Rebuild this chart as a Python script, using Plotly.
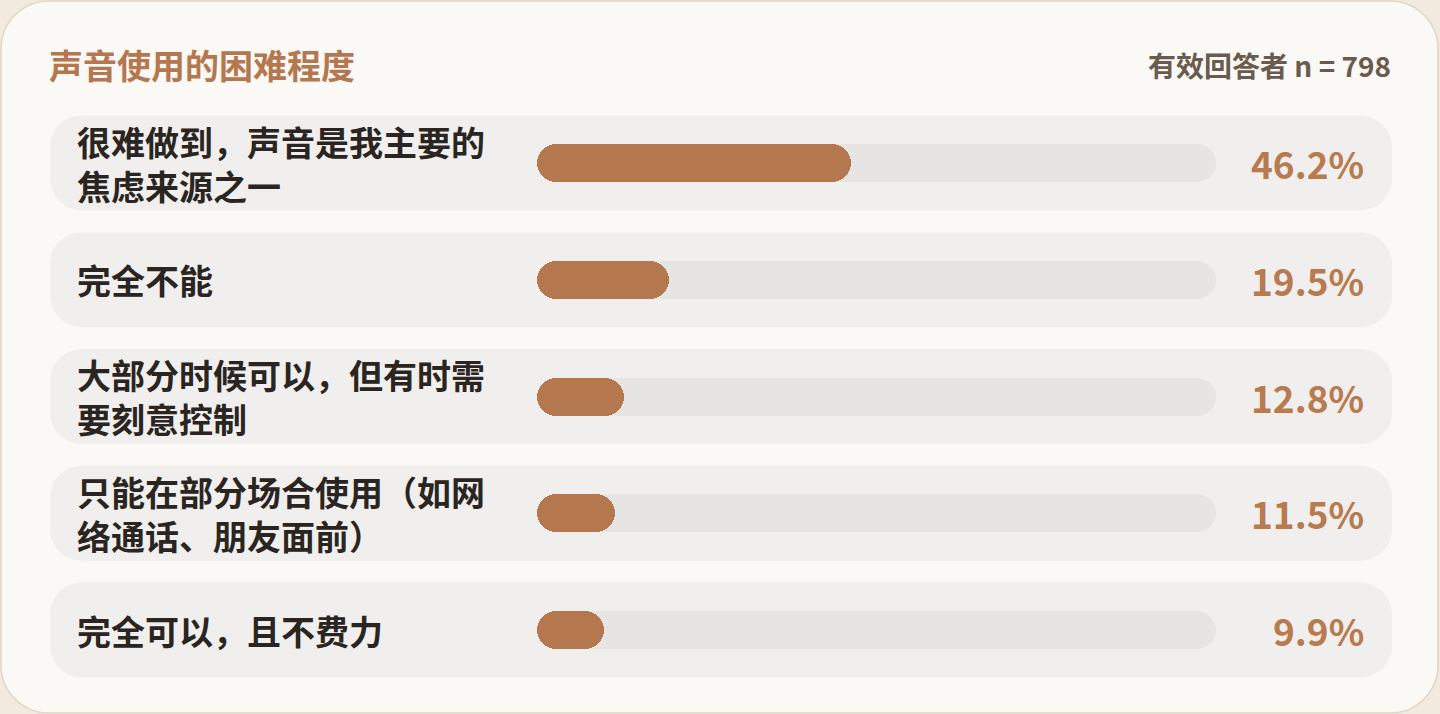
import plotly.graph_objects as go

W, H = 1440, 714

title = "声音使用的困难程度"
sample_note = "有效回答者 n = 798"
categories = [
    "很难做到，声音是我主要的<br>焦虑来源之一",
    "完全不能",
    "大部分时候可以，但有时需<br>要刻意控制",
    "只能在部分场合使用（如网<br>络通话、朋友面前）",
    "完全可以，且不费力",
]
values = [46.2, 19.5, 12.8, 11.5, 9.9]
full_scale = [100, 100, 100, 100, 100]

FONT = "Noto Sans CJK SC, Noto Sans, sans-serif"
ACCENT = "#b5774e"
PCT = "#b87a4f"
LABEL = "#2b2521"
ROW_BG = "#f0efed"
TRACK = "#e6e5e3"
CARD = "#faf9f6"
OUTER = "#f2eadf"

# pixel layout
ROW0 = 163.0
STEP = 116.75
y_top = -ROW0 / STEP
y_bot = (H - ROW0) / STEP
idx = list(range(len(categories)))


def px(x, y):
    return x / W, 1 - y / H


def rrect(x0, y0, x1, y1, r):
    k = 0.5523 * r

    def P(x, y):
        a, b = px(x, y)
        return f"{a:.6f},{b:.6f}"
    return (f"M {P(x0 + r, y0)} L {P(x1 - r, y0)} "
            f"C {P(x1 - r + k, y0)} {P(x1, y0 + r - k)} {P(x1, y0 + r)} "
            f"L {P(x1, y1 - r)} "
            f"C {P(x1, y1 - r + k)} {P(x1 - r + k, y1)} {P(x1 - r, y1)} "
            f"L {P(x0 + r, y1)} "
            f"C {P(x0 + r - k, y1)} {P(x0, y1 - r + k)} {P(x0, y1 - r)} "
            f"L {P(x0, y0 + r)} "
            f"C {P(x0, y0 + r - k)} {P(x0 + r - k, y0)} {P(x0 + r, y0)} Z")


shapes = [dict(type="path", path=rrect(1, 1, 1438, 713, 48), xref="paper", yref="paper",
               fillcolor=CARD, line=dict(color="#e2d5c4", width=1.5), layer="below")]
for i in idx:
    cy = ROW0 + i * STEP
    shapes.append(dict(type="path", path=rrect(50, cy - 47.5, 1392, cy + 47.5, 32),
                       xref="paper", yref="paper", fillcolor=ROW_BG,
                       line=dict(width=0), layer="below"))

bar_w = 38 / STEP

fig = go.Figure()
fig.add_trace(go.Bar(x=full_scale, base=[0] * len(idx), y=idx, orientation="h",
                     width=bar_w, yaxis="y",
                     marker=dict(color=TRACK, cornerradius=19, line=dict(width=0)),
                     hoverinfo="skip", showlegend=False))
fig.add_trace(go.Bar(x=values, base=[0] * len(idx), y=idx, orientation="h",
                     width=bar_w, yaxis="y2",
                     marker=dict(color=ACCENT, cornerradius=19, line=dict(width=0)),
                     hoverinfo="skip", showlegend=False))

annotations = [
    dict(text=f"<b>{title}</b>", x=47 / W, y=1 - 64 / H, xref="paper", yref="paper",
         xanchor="left", yanchor="middle", showarrow=False,
         font=dict(family=FONT, size=34, color=ACCENT)),
    dict(text=f"<b>{sample_note}</b>", x=1393 / W, y=1 - 65 / H, xref="paper", yref="paper",
         xanchor="right", yanchor="middle", showarrow=False,
         font=dict(family=FONT, size=28, color="#6b5b4e")),
]
for i, (c, v) in enumerate(zip(categories, values)):
    annotations.append(dict(text=f"<b>{c}</b>", x=75 / W, y=i, xref="paper", yref="y",
                            xanchor="left", yanchor="middle", align="left", showarrow=False,
                            font=dict(family=FONT, size=34, color=LABEL)))
    annotations.append(dict(text=f"<b>{v:.1f}%</b>", x=1366 / W, y=i, xref="paper", yref="y",
                            xanchor="right", yanchor="middle", align="right", showarrow=False,
                            font=dict(family=FONT, size=37, color=PCT)))

yax = dict(domain=[0, 1], range=[y_bot, y_top], visible=False, fixedrange=True)
fig.update_layout(
    width=W, height=H, margin=dict(l=0, r=0, t=0, b=0),
    paper_bgcolor=OUTER, plot_bgcolor="rgba(0,0,0,0)",
    barmode="overlay", bargap=0,
    xaxis=dict(domain=[537 / W, 1216 / W], range=[0, 100], visible=False, fixedrange=True),
    yaxis=yax,
    yaxis2=dict(yax, overlaying="y"),
    shapes=shapes, annotations=annotations,
    font=dict(family=FONT), showlegend=False,
)

fig.write_html("out.html", config={"displayModeBar": False},
               post_script="document.body.style.margin='0';document.body.style.overflow='hidden';")
